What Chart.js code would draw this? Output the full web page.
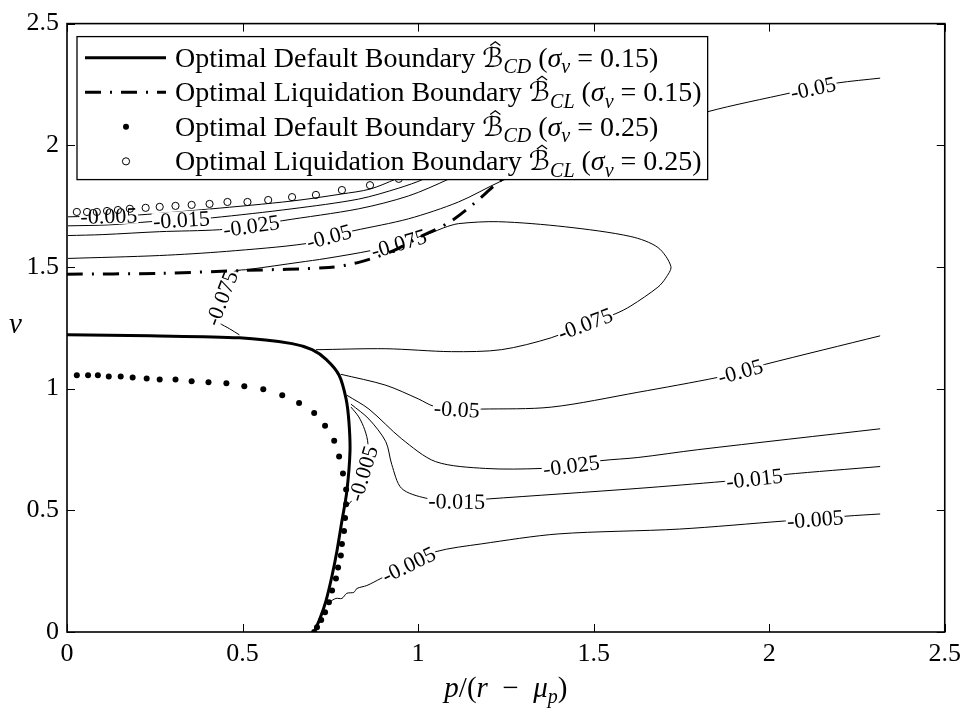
<!DOCTYPE html>
<html>
<head>
<meta charset="utf-8">
<script src="https://cdn.jsdelivr.net/npm/chart.js@4.4.0/dist/chart.umd.min.js"></script>
<style>
html, body { margin: 0; padding: 0; background: #fff; }
canvas { display: block; }
</style>
</head>
<body>
<canvas id="chart" width="968" height="709"></canvas>
<script>
// axes
const xTicks = [0, 0.5, 1, 1.5, 2, 2.5];
const yTicks = [0, 0.5, 1, 1.5, 2, 2.5];

// legend text
const boundaryNames = ['Optimal Default Boundary', 'Optimal Liquidation Boundary', 'Optimal Default Boundary', 'Optimal Liquidation Boundary'];
const boundarySubs = ['CD', 'CL', 'CD', 'CL'];
const boundarySigmas = ['0.15', '0.15', '0.25', '0.25'];

// boundaries, sigma_v = 0.15
const default15X = [0.000, 0.236, 0.491, 0.641, 0.698, 0.738, 0.775, 0.795, 0.803, 0.806, 0.797, 0.783, 0.769, 0.755, 0.738, 0.721, 0.704];
const default15Y = [1.221, 1.217, 1.209, 1.185, 1.160, 1.120, 1.055, 0.957, 0.863, 0.741, 0.578, 0.456, 0.334, 0.232, 0.130, 0.057, 0.000];
const liquid15X = [0.000, 0.264, 0.511, 0.746, 0.831, 0.925, 1.002, 1.087, 1.158, 1.215, 1.243, 1.314];
const liquid15Y = [1.470, 1.474, 1.486, 1.498, 1.519, 1.564, 1.621, 1.682, 1.759, 1.832, 1.865, 1.962];

// boundaries, sigma_v = 0.25
const default25X = [0.028, 0.060, 0.088, 0.119, 0.153, 0.187, 0.227, 0.264, 0.309, 0.355, 0.403, 0.454, 0.505, 0.559, 0.613, 0.661, 0.704, 0.735, 0.761, 0.775, 0.786, 0.795, 0.795, 0.792, 0.789, 0.783, 0.780, 0.772, 0.766, 0.755, 0.746, 0.735, 0.724, 0.712, 0.704];
const default25Y = [1.055, 1.055, 1.055, 1.050, 1.050, 1.046, 1.042, 1.038, 1.038, 1.030, 1.026, 1.022, 1.010, 0.998, 0.973, 0.941, 0.900, 0.847, 0.786, 0.721, 0.651, 0.586, 0.525, 0.468, 0.415, 0.362, 0.314, 0.265, 0.220, 0.171, 0.122, 0.081, 0.049, 0.020, 0.000];
const liquid25X = [0.028, 0.057, 0.085, 0.114, 0.145, 0.179, 0.224, 0.264, 0.309, 0.355, 0.406, 0.457, 0.514, 0.573, 0.641, 0.709, 0.783, 0.863, 0.945, 1.030];
const liquid25Y = [1.726, 1.726, 1.726, 1.730, 1.734, 1.739, 1.743, 1.747, 1.751, 1.755, 1.759, 1.767, 1.767, 1.775, 1.787, 1.796, 1.816, 1.836, 1.862, 1.900];

// contour lines of the value function
const upper005X = [0.003, 0.119, 0.207, 0.406, 0.641, 0.783, 0.863, 0.936, 1.002, 1.087];
const upper005Y = [1.706, 1.710, 1.714, 1.738, 1.771, 1.800, 1.820, 1.861, 1.906, 1.963];
const upper015X = [0.003, 0.122, 0.236, 0.326, 0.414, 0.641, 0.831, 0.945, 1.016, 1.101];
const upper015Y = [1.669, 1.673, 1.686, 1.694, 1.702, 1.739, 1.779, 1.824, 1.861, 1.922];
const upper025X = [0.003, 0.102, 0.264, 0.434, 0.525, 0.613, 0.831, 0.973, 1.087, 1.158];
const upper025Y = [1.629, 1.633, 1.645, 1.653, 1.669, 1.690, 1.739, 1.792, 1.861, 1.914];
const upper05X = [0.003, 0.264, 0.454, 0.681, 0.746, 0.817, 0.973, 1.115, 1.237, 1.371, 1.569, 1.825, 2.060, 2.125, 2.194, 2.316];
const upper05Y = [1.535, 1.547, 1.564, 1.596, 1.625, 1.649, 1.698, 1.767, 1.853, 1.930, 2.024, 2.138, 2.215, 2.235, 2.256, 2.276];
const loop075X = [0.491, 0.463, 0.434, 0.420, 0.440, 0.463, 0.477, 0.519, 0.661, 0.738, 0.868, 0.945, 1.039, 1.073, 1.115, 1.229, 1.419, 1.606, 1.683, 1.720, 1.705, 1.683, 1.606, 1.561, 1.476, 1.379, 1.237, 1.095, 0.908, 0.709];
const loop075Y = [1.221, 1.246, 1.270, 1.291, 1.372, 1.454, 1.482, 1.490, 1.519, 1.535, 1.568, 1.596, 1.641, 1.661, 1.678, 1.686, 1.665, 1.625, 1.580, 1.502, 1.454, 1.417, 1.340, 1.307, 1.266, 1.209, 1.160, 1.152, 1.164, 1.160];
const lower05X = [0.780, 0.908, 1.002, 1.044, 1.110, 1.180, 1.379, 1.626, 1.853, 1.918, 1.986, 2.316];
const lower05Y = [1.059, 1.014, 0.957, 0.928, 0.916, 0.916, 0.924, 0.985, 1.046, 1.071, 1.099, 1.217];
const lower025X = [0.797, 0.860, 0.953, 1.050, 1.192, 1.351, 1.436, 1.521, 1.626, 1.796, 2.316];
const lower025Y = [0.973, 0.916, 0.794, 0.700, 0.672, 0.672, 0.684, 0.704, 0.717, 0.749, 0.835];
const lower015X = [0.809, 0.860, 0.908, 0.925, 0.953, 1.022, 1.110, 1.192, 1.626, 1.873, 1.958, 2.043, 2.316];
const lower015Y = [0.936, 0.875, 0.782, 0.688, 0.590, 0.550, 0.537, 0.546, 0.590, 0.619, 0.631, 0.647, 0.680];
const loop005X = [0.809, 0.831, 0.848, 0.857, 0.851, 0.843, 0.834, 0.814, 0.797];
const loop005Y = [0.924, 0.884, 0.831, 0.774, 0.692, 0.651, 0.611, 0.546, 0.517];
const lower005X = [0.746, 0.766, 0.783, 0.797, 0.817, 0.826, 0.854, 0.894, 0.973, 1.050, 1.180, 1.399, 1.745, 2.043, 2.131, 2.219, 2.316];
const lower005Y = [0.122, 0.138, 0.138, 0.159, 0.163, 0.179, 0.191, 0.220, 0.277, 0.330, 0.362, 0.403, 0.423, 0.456, 0.464, 0.476, 0.485];

// level text + which vertex carries the inline label
const contours = [
    { level: '-0.005', xs: upper005X, ys: upper005Y, labelAt: [1] },
    { level: '-0.015', xs: upper015X, ys: upper015Y, labelAt: [3] },
    { level: '-0.025', xs: upper025X, ys: upper025Y, labelAt: [4] },
    { level: '-0.05', xs: upper05X, ys: upper05Y, labelAt: [4, 13] },
    { level: '-0.075', xs: loop075X, ys: loop075Y, labelAt: [4, 11, 24] },
    { level: '-0.05', xs: lower05X, ys: lower05Y, labelAt: [4, 9] },
    { level: '-0.025', xs: lower025X, ys: lower025Y, labelAt: [6] },
    { level: '-0.015', xs: lower015X, ys: lower015Y, labelAt: [6, 10] },
    { level: '-0.005', xs: loop005X, ys: loop005Y, labelAt: [5] },
    { level: '-0.005', xs: lower005X, ys: lower005Y, labelAt: [8, 14] }
];

const SERIF = '"Liberation Serif", "DejaVu Serif", serif';
const TICK_SIZE = 26;
const CLABEL_SIZE = 22;
const LEGEND_SIZE = 28;
const DASH_DOT = [16, 9, 2, 9];

function pts(xs, ys) {
    return xs.map((x, i) => ({ x: x, y: ys[i] }));
}

// draws a run of text pieces: [text, style, scale, dy]
function drawParts(ctx, parts, x, y, size, doDraw) {
    let cx = x;
    for (const p of parts) {
        const fs = Math.round(size * (p[2] || 1));
        const fam = p[1] === 'script' ? '"DejaVu Serif", "DejaVu Sans", serif' : SERIF;
        const style = (p[1] === 'it' || p[1] === 'script') ? 'italic ' : '';
        ctx.font = style + fs + 'px ' + fam;
        const w = ctx.measureText(p[0]).width;
        if (doDraw) {
            ctx.fillText(p[0], cx, y + (p[3] || 0) * size);
            if (p[1] === 'script') {
                // hat accent
                ctx.beginPath();
                ctx.lineWidth = 1.2;
                ctx.moveTo(cx + w * 0.38, y - size * 0.76);
                ctx.lineTo(cx + w * 0.62, y - size * 0.9);
                ctx.lineTo(cx + w * 0.86, y - size * 0.76);
                ctx.stroke();
            }
        }
        cx += w;
    }
    return cx - x;
}

function boundaryParts(i) {
    return [
        [boundaryNames[i] + ' ', 'rm'],
        ['\u212C', 'script', 0.95],
        [boundarySubs[i], 'it', 0.7, 0.22],
        [' (', 'rm'],
        ['\u03C3', 'it'],
        ['v', 'it', 0.7, 0.22],
        [' = ' + boundarySigmas[i] + ')', 'rm']
    ];
}

const contourDatasets = contours.map(c => ({
    data: pts(c.xs, c.ys),
    showLine: true,
    borderColor: '#000',
    borderWidth: 1,
    pointRadius: 0,
    tension: 0.3
}));

const datasets = [
    { data: pts(default15X, default15Y), showLine: true, borderColor: '#000', borderWidth: 3, pointRadius: 0, tension: 0.3 },
    { data: pts(liquid15X, liquid15Y), showLine: true, borderColor: '#000', borderWidth: 3, borderDash: DASH_DOT, pointRadius: 0, tension: 0.3 },
    { data: pts(default25X, default25Y), showLine: false, pointRadius: 3, pointBackgroundColor: '#000', pointBorderColor: '#000', pointBorderWidth: 0 },
    { data: pts(liquid25X, liquid25Y), showLine: false, pointRadius: 3.6, pointBackgroundColor: 'rgba(0,0,0,0)', pointBorderColor: '#000', pointBorderWidth: 1 }
].concat(contourDatasets);

// inline contour labels, drawn right after the last contour so the boundaries stay on top
const contourLabels = {
    id: 'contourLabels',
    afterDatasetDraw(chart, args) {
        if (args.index !== 4) return;
        const ctx = chart.ctx;
        const xs = chart.scales.x, ys = chart.scales.y;
        ctx.save();
        ctx.font = CLABEL_SIZE + 'px ' + SERIF;
        ctx.textAlign = 'center';
        ctx.textBaseline = 'alphabetic';
        contours.forEach(c => {
            c.labelAt.forEach(i => {
                const px = xs.getPixelForValue(c.xs[i]), py = ys.getPixelForValue(c.ys[i]);
                const ax = xs.getPixelForValue(c.xs[i + 1]) - xs.getPixelForValue(c.xs[i - 1]);
                const ay = ys.getPixelForValue(c.ys[i + 1]) - ys.getPixelForValue(c.ys[i - 1]);
                let a = Math.atan2(ay, ax);
                if (a > Math.PI / 2) a -= Math.PI;
                if (a < -Math.PI / 2) a += Math.PI;
                const w = ctx.measureText(c.level).width;
                ctx.save();
                ctx.translate(px, py);
                ctx.rotate(a);
                ctx.fillStyle = '#fff';
                ctx.fillRect(-w / 2 - 1, -CLABEL_SIZE * 0.38, w + 2, CLABEL_SIZE * 0.76);
                ctx.fillStyle = '#000';
                ctx.fillText(c.level, 0, CLABEL_SIZE * 0.33);
                ctx.restore();
            });
        });
        ctx.restore();
    }
};

// MATLAB style box with inward ticks on all sides
const frame = {
    id: 'frame',
    afterDatasetsDraw(chart) {
        const ctx = chart.ctx, a = chart.chartArea;
        const xs = chart.scales.x, ys = chart.scales.y;
        ctx.save();
        ctx.strokeStyle = '#000';
        ctx.lineWidth = 1;
        ctx.beginPath();
        xTicks.forEach(v => {
            const p = Math.round(xs.getPixelForValue(v)) + 0.5;
            ctx.moveTo(p, a.bottom); ctx.lineTo(p, a.bottom - 8);
            ctx.moveTo(p, a.top); ctx.lineTo(p, a.top + 8);
        });
        yTicks.forEach(v => {
            const p = Math.round(ys.getPixelForValue(v)) + 0.5;
            ctx.moveTo(a.left, p); ctx.lineTo(a.left + 8, p);
            ctx.moveTo(a.right, p); ctx.lineTo(a.right - 8, p);
        });
        ctx.stroke();
        ctx.lineWidth = 1.6;
        ctx.strokeRect(a.left, a.top, a.right - a.left, a.bottom - a.top);
        ctx.restore();
    }
};

// legend inside the axes plus axis titles with math
const overlay = {
    id: 'overlay',
    afterDraw(chart) {
        const ctx = chart.ctx, a = chart.chartArea;
        ctx.save();
        ctx.fillStyle = '#000';
        ctx.strokeStyle = '#000';
        ctx.textAlign = 'left';
        ctx.textBaseline = 'alphabetic';

        const bx = a.left + 10, by = a.top + 13, rowH = 34.5, textX = bx + 98;
        let maxW = 0;
        for (let i = 0; i < 4; i++) maxW = Math.max(maxW, drawParts(ctx, boundaryParts(i), 0, 0, LEGEND_SIZE, false));
        const bw = textX - bx + maxW + 6, bh = rowH * 4 + 5;
        ctx.fillStyle = '#fff';
        ctx.fillRect(bx, by, bw, bh);
        ctx.lineWidth = 1.3;
        ctx.strokeRect(bx, by, bw, bh);
        ctx.fillStyle = '#000';
        for (let i = 0; i < 4; i++) {
            const cy = by + 4 + rowH * (i + 0.5);
            const ds = chart.data.datasets[i];
            if (ds.showLine) {
                ctx.save();
                ctx.lineWidth = ds.borderWidth;
                ctx.setLineDash(ds.borderDash || []);
                ctx.beginPath();
                ctx.moveTo(bx + 8, cy);
                ctx.lineTo(bx + 89, cy);
                ctx.stroke();
                ctx.restore();
            } else {
                ctx.beginPath();
                ctx.arc(bx + 49, cy, ds.pointRadius, 0, Math.PI * 2);
                if (ds.pointBorderWidth) { ctx.lineWidth = 1; ctx.stroke(); } else ctx.fill();
            }
            ctx.lineWidth = 1.2;
            drawParts(ctx, boundaryParts(i), textX, cy + 9, LEGEND_SIZE, true);
        }

        // x title: p/(r - mu_p)
        const xt = [['p', 'it'], ['/(', 'rm'], ['r', 'it'], ['  \u2212  ', 'rm'], ['\u03BC', 'it'], ['p', 'it', 0.7, 0.22], [')', 'rm']];
        const tw = drawParts(ctx, xt, 0, 0, 29, false);
        drawParts(ctx, xt, (a.left + a.right) / 2 - tw / 2, 697, 29, true);
        // y title
        drawParts(ctx, [['v', 'it']], 9, 333, 29, true);
        ctx.restore();
    }
};

new Chart(document.getElementById('chart'), {
    type: 'scatter',
    data: { datasets: datasets },
    options: {
        responsive: false,
        animation: false,
        devicePixelRatio: 1,
        layout: { autoPadding: false, padding: { top: 18, right: 20, left: 0, bottom: 0 } },
        plugins: { legend: { display: false }, tooltip: { enabled: false } },
        scales: {
            x: {
                type: 'linear', min: 0, max: 2.5,
                afterBuildTicks: s => { s.ticks = xTicks.map(v => ({ value: v })); },
                afterFit: s => { s.height = 77; },
                grid: { display: false, drawTicks: false },
                border: { display: false },
                ticks: { color: '#000', padding: 7, maxRotation: 0, font: { family: SERIF, size: TICK_SIZE }, callback: v => String(v) }
            },
            y: {
                type: 'linear', min: 0, max: 2.5,
                afterBuildTicks: s => { s.ticks = yTicks.map(v => ({ value: v })); },
                afterFit: s => { s.width = 67; },
                grid: { display: false, drawTicks: false },
                border: { display: false },
                ticks: { color: '#000', padding: 8, font: { family: SERIF, size: TICK_SIZE }, callback: v => String(v) }
            }
        }
    },
    plugins: [contourLabels, frame, overlay]
});
</script>
</body>
</html>
